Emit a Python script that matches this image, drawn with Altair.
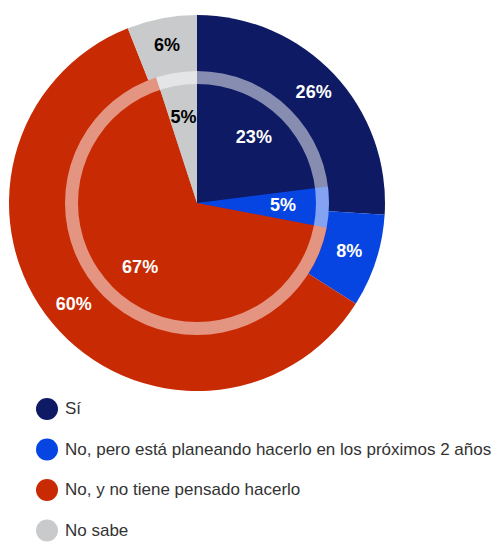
import altair as alt
import pandas as pd

categories = ["Sí", "No, pero está planeando hacerlo en los próximos 2 años",
              "No, y no tiene pensado hacerlo", "No sabe"]
outer_values = [26, 8, 60, 6]
inner_values = [23, 5, 67, 5]
colors = ["#0e1a63", "#0745e2", "#c82a04", "#c9cacc"]
label_colors = ["white", "white", "white", "black"]

df = pd.DataFrame({
    "cat": categories,
    "idx": list(range(len(categories))),
    "outer": outer_values,
    "inner": inner_values,
    "tcol": label_colors,
})
ring_df = pd.DataFrame({"v": [1]})

color = alt.Color("cat:N", scale=alt.Scale(domain=categories, range=colors),
                  sort=categories,
                  legend=alt.Legend(title=None, orient="none", legendX=36, legendY=398,
                                    symbolType="circle", symbolSize=484, symbolStrokeWidth=0,
                                    labelFontSize=17, labelFont="Liberation Sans",
                                    labelColor="#333333", labelLimit=600, labelOffset=7,
                                    rowPadding=18.5, padding=0))
order = alt.Order("idx:Q")

base = alt.Chart(df)
outer = base.mark_arc(radius=188).encode(
    theta=alt.Theta("outer:Q", stack=True), color=color, order=order)
inner = base.mark_arc(radius=132).encode(
    theta=alt.Theta("inner:Q", stack=True),
    color=alt.Color("cat:N", scale=alt.Scale(domain=categories, range=colors), legend=None),
    order=order)
ring = alt.Chart(ring_df).mark_arc(radius=132, radius2=119, fill="white", opacity=0.5).encode(
    theta=alt.Theta("v:Q"))
outer_text = base.transform_calculate(lab="datum.outer + '%'").mark_text(
    radius=160, font="Liberation Sans", fontWeight="bold", fontSize=18).encode(
    theta=alt.Theta("outer:Q", stack=True), text="lab:N",
    color=alt.Color("tcol:N", scale=None), order=order)
inner_text = base.transform_calculate(lab="datum.inner + '%'").mark_text(
    radius=86, font="Liberation Sans", fontWeight="bold", fontSize=18).encode(
    theta=alt.Theta("inner:Q", stack=True), text="lab:N",
    color=alt.Color("tcol:N", scale=None), order=order)

chart = alt.layer(outer, inner, ring, outer_text, inner_text).resolve_scale(
    color="independent", theta="independent").properties(
    width=394, height=406,
    padding={"left": 0, "top": 0, "right": 101, "bottom": 137},
    autosize=alt.AutoSizeParams(type="none"),
).configure_view(stroke=None)

chart.save("out.html", embed_options={"renderer": "svg", "actions": False})
